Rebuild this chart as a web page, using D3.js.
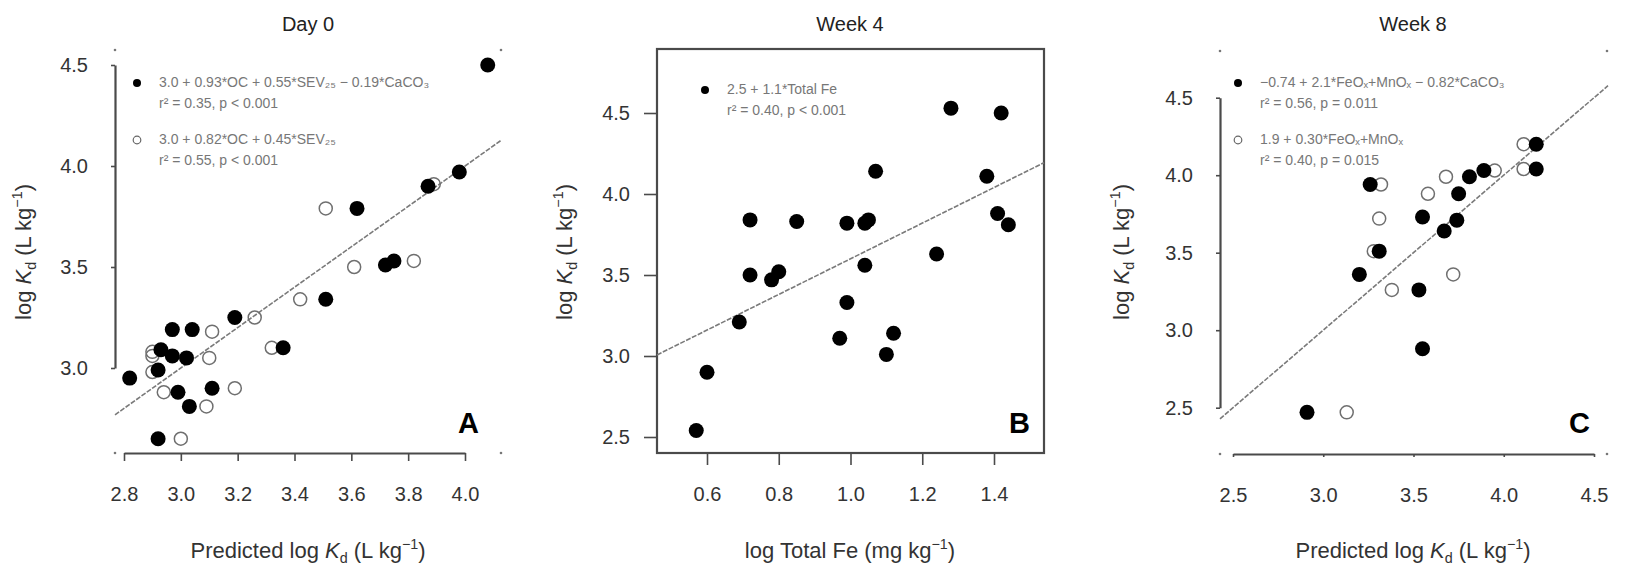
<!DOCTYPE html>
<html>
<head>
<meta charset="utf-8">
<script src="https://cdn.jsdelivr.net/npm/d3@7"></script>
<style>
  body { margin: 0; background: #fff; }
  svg text { font-family: "Liberation Sans", Arial, sans-serif; }
</style>
</head>
<body>
<svg id="chart" width="1633" height="565"></svg>
<script>
// ---------- data ----------
// Day 0: predicted vs observed log Kd, two regression models
const day0FilledPred = [4.08, 3.98, 3.87, 3.62, 3.72, 3.75, 3.51, 3.19, 2.97, 3.04, 3.36, 2.93, 2.97, 3.02, 2.92, 2.82, 2.99, 3.11, 3.03, 2.92];
const day0FilledObs  = [4.50, 3.97, 3.90, 3.79, 3.51, 3.53, 3.34, 3.25, 3.19, 3.19, 3.10, 3.09, 3.06, 3.05, 2.99, 2.95, 2.88, 2.90, 2.81, 2.65];
const day0OpenPred   = [3.89, 3.51, 3.61, 3.82, 3.42, 3.26, 3.11, 3.32, 3.10, 2.90, 2.90, 2.90, 2.94, 3.19, 3.09, 3.00];
const day0OpenObs    = [3.91, 3.79, 3.50, 3.53, 3.34, 3.25, 3.18, 3.10, 3.05, 3.08, 3.06, 2.98, 2.88, 2.90, 2.81, 2.65];

// Week 4: observed log Kd against log total Fe
const week4Fe = [0.57, 0.60, 0.69, 0.72, 0.72, 0.78, 0.80, 0.85, 0.97, 0.99, 0.99, 1.04, 1.05, 1.04, 1.07, 1.10, 1.12, 1.24, 1.28, 1.38, 1.41, 1.42, 1.44];
const week4Kd = [2.54, 2.90, 3.21, 3.84, 3.50, 3.47, 3.52, 3.83, 3.11, 3.82, 3.33, 3.82, 3.84, 3.56, 4.14, 3.01, 3.14, 3.63, 4.53, 4.11, 3.88, 4.50, 3.81];
const week4Intercept = 2.5;
const week4Slope = 1.1;

// Week 8: predicted vs observed log Kd, two regression models
const week8FilledPred = [4.18, 4.18, 3.89, 3.81, 3.75, 3.74, 3.67, 3.55, 3.26, 3.31, 3.20, 3.53, 3.55, 2.91];
const week8FilledObs  = [4.20, 4.04, 4.03, 3.99, 3.88, 3.71, 3.64, 3.73, 3.94, 3.51, 3.36, 3.26, 2.88, 2.47];
const week8OpenPred   = [4.11, 4.11, 3.68, 3.95, 3.58, 3.32, 3.31, 3.28, 3.72, 3.38, 3.13];
const week8OpenObs    = [4.20, 4.04, 3.99, 4.03, 3.88, 3.94, 3.72, 3.51, 3.36, 3.26, 2.47];

// tick labels
const day0XTicks = [2.8, 3.0, 3.2, 3.4, 3.6, 3.8, 4.0];
const day0YTicks = [3.0, 3.5, 4.0, 4.5];
const week4XTicks = [0.6, 0.8, 1.0, 1.2, 1.4];
const week4YTicks = [2.5, 3.0, 3.5, 4.0, 4.5];
const week8XTicks = [2.5, 3.0, 3.5, 4.0, 4.5];
const week8YTicks = [2.5, 3.0, 3.5, 4.0, 4.5];

const titles = ["Day 0", "Week 4", "Week 8"];
const panelLetters = ["A", "B", "C"];

const day0Legend = [
  ["3.0 + 0.93*OC + 0.55*SEV\u2082\u2085 \u2212 0.19*CaCO\u2083", "r\u00B2 = 0.35, p < 0.001"],
  ["3.0 + 0.82*OC + 0.45*SEV\u2082\u2085", "r\u00B2 = 0.55, p < 0.001"]
];
const week4Legend = [
  [`${week4Intercept.toFixed(1)} + ${week4Slope.toFixed(1)}*Total Fe`, "r\u00B2 = 0.40, p < 0.001"]
];
const week8Legend = [
  ["\u22120.74 + 2.1*FeO\u2093+MnO\u2093 \u2212 0.82*CaCO\u2083", "r\u00B2 = 0.56, p = 0.011"],
  ["1.9 + 0.30*FeO\u2093+MnO\u2093", "r\u00B2 = 0.40, p = 0.015"]
];

// ---------- drawing ----------
const svg = d3.select("#chart");
const axisColor = "#4a4a4a";
const tickFont = 20;

function fmt(d) { return d.toFixed(1); }

function styleAxis(g) {
  g.selectAll("path.domain").attr("stroke", axisColor).attr("stroke-width", 2.2);
  g.selectAll(".tick line").attr("stroke", axisColor).attr("stroke-width", 1.6);
  g.selectAll(".tick text").attr("fill", "#333").attr("font-size", tickFont)
    .attr("font-family", '"Liberation Sans", Arial, sans-serif');
}

function kdLabel(sel, prefix) {
  sel.append("tspan").text(prefix);
  sel.append("tspan").attr("font-style", "italic").text("K");
  sel.append("tspan").attr("font-size", "65%").attr("dy", 5).text("d");
  sel.append("tspan").attr("dy", -5).text(" (L kg");
  sel.append("tspan").attr("font-size", "65%").attr("dy", -9).text("\u22121");
  sel.append("tspan").attr("dy", 9).text(")");
}

function yLabel(cx, cy) {
  const t = svg.append("text")
    .attr("transform", `translate(${cx},${cy}) rotate(-90)`)
    .attr("text-anchor", "middle").attr("font-size", 22).attr("fill", "#333");
  kdLabel(t, "log ");
}

function xLabelPred(cx, cy) {
  const t = svg.append("text").attr("x", cx).attr("y", cy)
    .attr("text-anchor", "middle").attr("font-size", 22).attr("fill", "#333");
  kdLabel(t, "Predicted log ");
}

function title(cx, text) {
  svg.append("text").attr("x", cx).attr("y", 31).attr("text-anchor", "middle")
    .attr("font-size", 20).attr("fill", "#222").text(text);
}

function letter(x, y, text) {
  svg.append("text").attr("x", x).attr("y", y).attr("text-anchor", "end")
    .attr("font-size", 29).attr("font-weight", "bold").attr("fill", "#000").text(text);
}

function cornerDots(x0, x1, y0, y1) {
  [[x0, y0], [x1, y0], [x0, y1], [x1, y1]].forEach(([cx, cy]) => {
    svg.append("circle").attr("cx", cx).attr("cy", cy).attr("r", 1.3).attr("fill", "#777");
  });
}

function openPoints(xs, ys, x, y, r) {
  svg.append("g").selectAll("circle").data(xs).join("circle")
    .attr("cx", (d) => x(d)).attr("cy", (d, i) => y(ys[i])).attr("r", r)
    .attr("fill", "none").attr("stroke", "#6f6f6f").attr("stroke-width", 1.5);
}

function filledPoints(xs, ys, x, y, r) {
  svg.append("g").selectAll("circle").data(xs).join("circle")
    .attr("cx", (d) => x(d)).attr("cy", (d, i) => y(ys[i])).attr("r", r)
    .attr("fill", "#000");
}

function fitLine(x, y, xFrom, xTo, f) {
  const line = d3.line().x((d) => x(d)).y((d) => y(f(d)));
  svg.append("path").attr("d", line([xFrom, xTo]))
    .attr("fill", "none").attr("stroke", "#7a7a7a").attr("stroke-width", 1.6)
    .attr("stroke-dasharray", "5,1.5");
}

function legend(x0, y0, rows, kinds) {
  rows.forEach((row, i) => {
    const yy = y0 + i * 57;
    if (kinds[i] === "filled") {
      svg.append("circle").attr("cx", x0).attr("cy", yy).attr("r", 4).attr("fill", "#000");
    } else {
      svg.append("circle").attr("cx", x0).attr("cy", yy).attr("r", 3.8)
        .attr("fill", "none").attr("stroke", "#666").attr("stroke-width", 1.2);
    }
    row.forEach((line, j) => {
      svg.append("text").attr("x", x0 + 22).attr("y", yy + j * 21)
        .attr("dominant-baseline", "middle").attr("font-size", 14).attr("fill", "#777")
        .text(line);
    });
  });
}

// ----- Panel A: Day 0 -----
{
  const x = d3.scaleLinear().domain([2.8, 4.0]).range([124, 465]);
  const y = d3.scaleLinear().domain([3.0, 4.5]).range([368, 65]);
  const left = 115, right = 501, top = 50, bottom = 453;
  cornerDots(left, right, top, bottom);

  svg.append("g").attr("transform", `translate(${left},0)`)
    .call(d3.axisLeft(y).tickValues(day0YTicks).tickFormat(fmt).tickSize(4).tickSizeOuter(0).tickPadding(23))
    .call(styleAxis);
  svg.append("g").attr("transform", `translate(0,${bottom})`)
    .call(d3.axisBottom(x).tickValues(day0XTicks).tickFormat(fmt).tickSize(8).tickSizeOuter(0).tickPadding(26))
    .call(styleAxis);

  fitLine(x, y, x.invert(left), x.invert(right), (v) => v);
  openPoints(day0OpenPred, day0OpenObs, x, y, 6.5);
  filledPoints(day0FilledPred, day0FilledObs, x, y, 7.5);
  legend(137, 83, day0Legend, ["filled", "open"]);

  title(308, titles[0]);
  letter(479, 433, panelLetters[0]);
  yLabel(31, 252);
  xLabelPred(308, 558);
}

// ----- Panel B: Week 4 -----
{
  const x = d3.scaleLinear().domain([0.6, 1.4]).range([707, 994]);
  const y = d3.scaleLinear().domain([2.5, 4.5]).range([437, 113]);
  const left = 657, right = 1044, top = 49, bottom = 453;

  const ga = svg.append("g").attr("transform", `translate(${left},0)`)
    .call(d3.axisLeft(y).tickValues(week4YTicks).tickFormat(fmt).tickSize(13).tickPadding(14))
    .call(styleAxis);
  ga.select("path.domain").remove();
  const gb = svg.append("g").attr("transform", `translate(0,${bottom})`)
    .call(d3.axisBottom(x).tickValues(week4XTicks).tickFormat(fmt).tickSize(12).tickPadding(22))
    .call(styleAxis);
  gb.select("path.domain").remove();

  svg.append("rect").attr("x", left).attr("y", top)
    .attr("width", right - left).attr("height", bottom - top)
    .attr("fill", "none").attr("stroke", axisColor).attr("stroke-width", 2.2);

  fitLine(x, y, x.invert(left), x.invert(right), (v) => week4Intercept + week4Slope * v);
  filledPoints(week4Fe, week4Kd, x, y, 7.5);
  legend(705, 90, week4Legend, ["filled"]);

  title(850, titles[1]);
  letter(1030, 433, panelLetters[1]);
  yLabel(572, 252);

  const t = svg.append("text").attr("x", 850).attr("y", 558)
    .attr("text-anchor", "middle").attr("font-size", 22).attr("fill", "#333");
  t.append("tspan").text("log Total Fe (mg kg");
  t.append("tspan").attr("font-size", "65%").attr("dy", -9).text("\u22121");
  t.append("tspan").attr("dy", 9).text(")");
}

// ----- Panel C: Week 8 -----
{
  const x = d3.scaleLinear().domain([2.5, 4.5]).range([1233, 1594]);
  const y = d3.scaleLinear().domain([2.5, 4.5]).range([407.7, 97.7]);
  const left = 1220, right = 1607, top = 51, bottom = 454;
  cornerDots(left, right, top, bottom);

  svg.append("g").attr("transform", `translate(${left},0)`)
    .call(d3.axisLeft(y).tickValues(week8YTicks).tickFormat(fmt).tickSize(4).tickSizeOuter(0).tickPadding(23))
    .call(styleAxis);
  svg.append("g").attr("transform", `translate(0,${bottom})`)
    .call(d3.axisBottom(x).tickValues(week8XTicks).tickFormat(fmt).tickSize(3).tickSizeOuter(0).tickPadding(31))
    .call(styleAxis);

  fitLine(x, y, x.invert(left), x.invert(right + 1), (v) => v);
  openPoints(week8OpenPred, week8OpenObs, x, y, 6.5);
  filledPoints(week8FilledPred, week8FilledObs, x, y, 7.5);
  legend(1238, 83, week8Legend, ["filled", "open"]);

  title(1413, titles[2]);
  letter(1590, 433, panelLetters[2]);
  yLabel(1129, 252);
  xLabelPred(1413, 558);
}
</script>
</body>
</html>
